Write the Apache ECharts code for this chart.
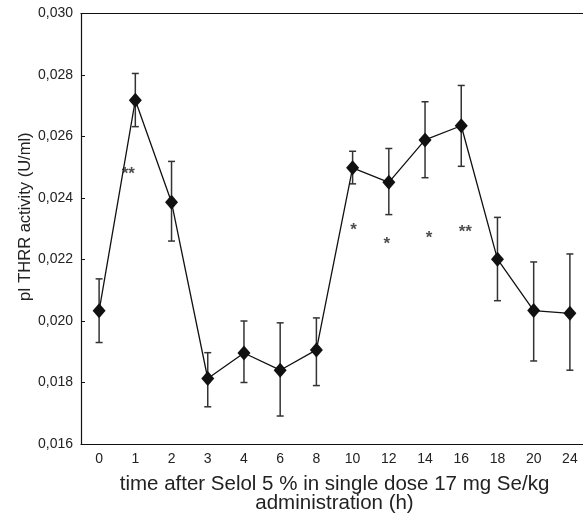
<!DOCTYPE html>
<html><head><meta charset="utf-8">
<script src="https://cdn.jsdelivr.net/npm/echarts@6/dist/echarts.min.js"></script>
<style>html,body{margin:0;padding:0;background:#fff}#c{width:583px;height:520px}</style>
</head><body><div id="c"></div>
<script>
const categories = ['0','1','2','3','4','6','8','10','12','14','16','18','20','24'];
const means = [0.02033,0.02718,0.02386,0.01813,0.01896,0.0184,0.01906,0.02498,0.02451,0.02589,0.02635,0.02201,0.02034,0.02025];
const errLow = [0.0193,0.02632,0.0226,0.01721,0.0180,0.01691,0.0179,0.02446,0.02346,0.02466,0.02503,0.02066,0.0187,0.0184];
const errHigh = [0.02137,0.02805,0.02519,0.01897,0.0200,0.01994,0.0201,0.02552,0.02561,0.02713,0.02766,0.02337,0.02192,0.02218];
const starCats = ['1','10','12','14','16'];
const starVals = [0.02486,0.02306,0.02259,0.0228,0.02297];
const starText = ['**','*','*','*','**'];
const starShift = [-7,1,-2,4,4];
const yTicks = {min:0.016,max:0.030,interval:0.002};

const chart = echarts.init(document.getElementById('c'),null,{renderer:'canvas'});
const font = 'Liberation Sans, Arial, sans-serif';
const errData = categories.map((c,i)=>[i,errLow[i],errHigh[i]]);
const starData = starCats.map((c,i)=>({value:[categories.indexOf(c),starVals[i]],label:{formatter:starText[i],offset:[starShift[i],3]}}));

chart.setOption({
  animation:false,
  grid:{left:81,top:13.5,width:507,height:430.5,containLabel:false,outerBoundsMode:'none'},
  xAxis:[{
    type:'category',data:categories,boundaryGap:true,position:'bottom',
    axisLine:{lineStyle:{color:'#111',width:1.2}},
    axisTick:{inside:true,alignWithLabel:true,length:4,lineStyle:{color:'#111'}},
    axisLabel:{color:'#222',fontSize:14,fontFamily:font,margin:8},
    name:'time after Selol 5 % in single dose 17 mg Se/kg\nadministration (h)',
    nameLocation:'middle',nameGap:31,
    nameTextStyle:{color:'#222',fontSize:20.5,fontFamily:font,lineHeight:19},
    splitLine:{show:false}
  },{
    type:'category',data:categories,boundaryGap:true,position:'top',
    axisLine:{lineStyle:{color:'#111',width:1.2}},
    axisTick:{inside:true,alignWithLabel:true,length:4,lineStyle:{color:'#111'}},
    axisLabel:{show:false},splitLine:{show:false}
  }],
  yAxis:{
    type:'value',min:yTicks.min,max:yTicks.max,interval:yTicks.interval,
    axisLine:{show:true,lineStyle:{color:'#111',width:1.2}},
    axisTick:{show:true,inside:true,length:4,lineStyle:{color:'#111'}},
    axisLabel:{color:'#222',fontSize:14,fontFamily:font,margin:8,formatter:v=>v.toFixed(3).replace('.',',')},
    splitLine:{show:false},
    name:'pI THRR activity (U/ml)',nameLocation:'middle',nameGap:47,nameMoveOverlap:false,
    nameTextStyle:{color:'#222',fontSize:16.5,fontFamily:font,padding:[0,0,0,24]}
  },
  series:[{
    type:'custom',data:errData,z:2,
    renderItem:(params,api)=>{
      const lo=api.coord([api.value(0),api.value(1)]);
      const hi=api.coord([api.value(0),api.value(2)]);
      const w=3.5;
      const st={stroke:'#333',lineWidth:1.5};
      return {type:'group',children:[
        {type:'line',shape:{x1:lo[0],y1:lo[1],x2:hi[0],y2:hi[1]},style:st},
        {type:'line',shape:{x1:lo[0]-w,y1:lo[1],x2:lo[0]+w,y2:lo[1]},style:st},
        {type:'line',shape:{x1:hi[0]-w,y1:hi[1],x2:hi[0]+w,y2:hi[1]},style:st}
      ]};
    }
  },{
    type:'line',data:means,z:3,
    lineStyle:{color:'#111',width:1.3},
    symbol:'diamond',symbolSize:[13,15],
    itemStyle:{color:'#111',borderWidth:0}
  },{
    type:'scatter',data:starData,symbolSize:0,z:4,
    label:{show:true,position:'inside',color:'#222',fontSize:17,fontFamily:font,fontWeight:'bold'}
  }]
});
</script></body></html>
